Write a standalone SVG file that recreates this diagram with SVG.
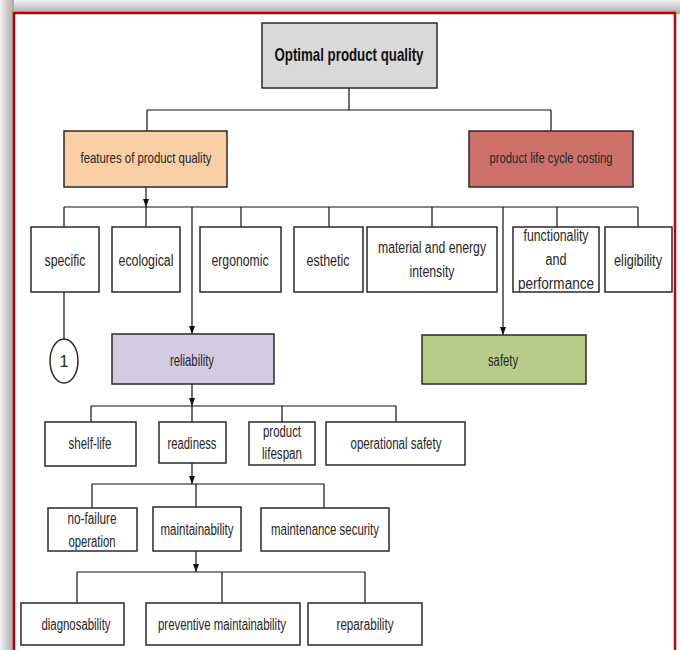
<svg xmlns="http://www.w3.org/2000/svg" width="680" height="650" viewBox="0 0 680 650">
<defs>
<linearGradient id="gTop" x1="0" y1="0" x2="0" y2="1"><stop offset="0" stop-color="#f2f2f2"/><stop offset="1" stop-color="#a8a8a8"/></linearGradient>
<linearGradient id="gLeft" x1="0" y1="0" x2="1" y2="0"><stop offset="0" stop-color="#f2f2f2"/><stop offset="1" stop-color="#a8a8a8"/></linearGradient>
<marker id="arr" markerUnits="userSpaceOnUse" markerWidth="8" markerHeight="6" refX="8" refY="3" orient="auto"><path d="M0,0 L8,3 L0,6 Z" fill="#111"/></marker>
<style>
.box{stroke:#2a2a2a;stroke-width:1.5;fill:#fff}
.t{font-family:"Liberation Sans Narrow","Liberation Sans",Arial,sans-serif;font-size:16px;fill:#262626;text-anchor:middle}
.s{font-size:14.5px}
.b{font-weight:bold;font-size:18.5px;fill:#111}
.c{stroke:#111;stroke-width:1.2;fill:none}
</style>
</defs>
<rect x="0" y="0" width="680" height="650" fill="#fff"/>
<rect x="0" y="0" width="680" height="14" fill="url(#gTop)"/>
<rect x="0" y="0" width="14" height="650" fill="url(#gLeft)"/>
<rect x="14" y="13" width="661" height="660" fill="#fff" stroke="#c00000" stroke-width="2.5"/>

<g id="connectors">
<path class="c" d="M349,88 V110 M147,110 H551 M147,110 V131 M551,110 V131"/>
<path class="c" d="M146,187 V207" marker-end="url(#arr)"/>
<path class="c" d="M64,207 H638 M64,207 V227 M146,207 V227 M241,207 V227 M329,207 V227 M432,207 V227 M557,207 V227 M638,207 V227"/>
<path class="c" d="M192,207 V334" marker-end="url(#arr)"/>
<path class="c" d="M503,207 V335" marker-end="url(#arr)"/>
<path class="c" d="M64,292 V339"/>
<path class="c" d="M192,384 V406" marker-end="url(#arr)"/>
<path class="c" d="M91,406 H396 M91,406 V422 M192,406 V422 M282,406 V422 M396,406 V422"/>
<path class="c" d="M192,463 V484" marker-end="url(#arr)"/>
<path class="c" d="M92,484 H324 M92,484 V508 M196,484 V507 M324,484 V508"/>
<path class="c" d="M196,551 V572" marker-end="url(#arr)"/>
<path class="c" d="M77,572 H365 M77,572 V603 M222,572 V603 M365,572 V603"/>
</g>

<g id="optimal"><rect class="box" x="262" y="23" width="175" height="65" style="fill:#d9d9d9"/><text class="t b" x="349" y="61" textLength="149" lengthAdjust="spacingAndGlyphs">Optimal product quality</text></g>
<g id="features"><rect class="box" x="64" y="131" width="163" height="56" style="fill:#fbcfa5"/><text class="t s" x="146" y="163" textLength="131" lengthAdjust="spacingAndGlyphs">features of product quality</text></g>
<g id="plcc"><rect class="box" x="469" y="131" width="164" height="56" style="fill:#cd716a"/><text class="t s" x="551" y="163" textLength="123" lengthAdjust="spacingAndGlyphs">product life cycle costing</text></g>
<g id="specific"><rect class="box" x="31" y="227" width="68" height="65"/><text class="t" x="65" y="266" textLength="41" lengthAdjust="spacingAndGlyphs">specific</text></g>
<g id="ecological"><rect class="box" x="112" y="227" width="68" height="65"/><text class="t" x="146" y="266" textLength="55" lengthAdjust="spacingAndGlyphs">ecological</text></g>
<g id="ergonomic"><rect class="box" x="200" y="227" width="81" height="65"/><text class="t" x="240" y="266" textLength="57" lengthAdjust="spacingAndGlyphs">ergonomic</text></g>
<g id="esthetic"><rect class="box" x="294" y="227" width="69" height="65"/><text class="t" x="328" y="266" textLength="43" lengthAdjust="spacingAndGlyphs">esthetic</text></g>
<g id="material"><rect class="box" x="367" y="227" width="130" height="65"/><text class="t" x="432" y="253" textLength="108" lengthAdjust="spacingAndGlyphs">material and energy</text><text class="t" x="432" y="277" textLength="45" lengthAdjust="spacingAndGlyphs">intensity</text></g>
<g id="functionality"><rect class="box" x="513" y="227" width="86" height="65"/><text class="t" x="556" y="241" textLength="65" lengthAdjust="spacingAndGlyphs">functionality</text><text class="t" x="556" y="265" textLength="21" lengthAdjust="spacingAndGlyphs">and</text><text class="t" x="556" y="289" textLength="76" lengthAdjust="spacingAndGlyphs">performance</text></g>
<g id="eligibility"><rect class="box" x="605" y="227" width="67" height="65"/><text class="t" x="638" y="266" textLength="48" lengthAdjust="spacingAndGlyphs">eligibility</text></g>
<g id="circle1"><ellipse class="box" cx="64" cy="361" rx="14" ry="22"/><text class="t" x="64" y="367" style="font-family:'Liberation Sans',Arial,sans-serif">1</text></g>
<g id="reliability"><rect class="box" x="112" y="334" width="162" height="50" style="fill:#d4cae1"/><text class="t" x="192" y="366" textLength="44" lengthAdjust="spacingAndGlyphs">reliability</text></g>
<g id="safety"><rect class="box" x="422" y="335" width="164" height="49" style="fill:#b8cc89"/><text class="t" x="503" y="366" textLength="30" lengthAdjust="spacingAndGlyphs">safety</text></g>
<g id="shelflife"><rect class="box" x="45" y="422" width="91" height="44"/><text class="t" x="90" y="449" textLength="43" lengthAdjust="spacingAndGlyphs">shelf-life</text></g>
<g id="readiness"><rect class="box" x="159" y="422" width="67" height="41"/><text class="t" x="192" y="449" textLength="49" lengthAdjust="spacingAndGlyphs">readiness</text></g>
<g id="lifespan"><rect class="box" x="249" y="422" width="66" height="43"/><text class="t" x="282" y="437" textLength="38" lengthAdjust="spacingAndGlyphs">product</text><text class="t" x="282" y="459" textLength="40" lengthAdjust="spacingAndGlyphs">lifespan</text></g>
<g id="opsafety"><rect class="box" x="326" y="422" width="139" height="43"/><text class="t" x="396" y="449" textLength="91" lengthAdjust="spacingAndGlyphs">operational safety</text></g>
<g id="nofailure"><rect class="box" x="48" y="508" width="89" height="43"/><text class="t" x="92" y="524" textLength="49" lengthAdjust="spacingAndGlyphs">no-failure</text><text class="t" x="92" y="547" textLength="47" lengthAdjust="spacingAndGlyphs">operation</text></g>
<g id="maintainability"><rect class="box" x="153" y="507" width="88" height="44"/><text class="t" x="197" y="535" textLength="73" lengthAdjust="spacingAndGlyphs">maintainability</text></g>
<g id="maintsecurity"><rect class="box" x="261" y="508" width="128" height="43"/><text class="t" x="325" y="535" textLength="108" lengthAdjust="spacingAndGlyphs">maintenance security</text></g>
<g id="diagnosability"><rect class="box" x="21" y="603" width="103" height="42"/><text class="t" x="76" y="630" textLength="69" lengthAdjust="spacingAndGlyphs">diagnosability</text></g>
<g id="preventive"><rect class="box" x="146" y="603" width="154" height="42"/><text class="t" x="222" y="630" textLength="128" lengthAdjust="spacingAndGlyphs">preventive maintainability</text></g>
<g id="reparability"><rect class="box" x="308" y="603" width="114" height="42"/><text class="t" x="365" y="630" textLength="57" lengthAdjust="spacingAndGlyphs">reparability</text></g>
</svg>
